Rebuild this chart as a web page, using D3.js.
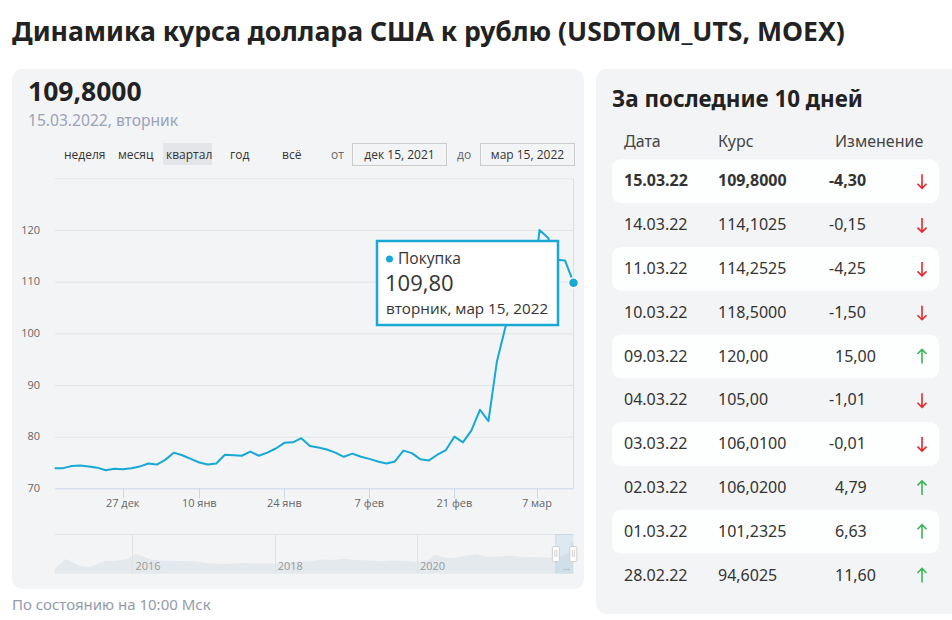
<!DOCTYPE html>
<html>
<head>
<meta charset="utf-8">
<script src="https://cdn.jsdelivr.net/npm/d3@7"></script>
<style>
  body { margin: 0; background: #fff; }
  svg { display: block; }
</style>
</head>
<body>
<div id="chart"></div>
<script>
// daily USDTOM close, Dec 2021 - Mar 15 2022 (trading days)
const rates = [
  73.9, 73.9, 74.3, 74.4, 74.2, 74.0, 73.5, 73.8, 73.7, 73.9,
  74.2, 74.8, 74.6, 75.5, 76.9, 76.4, 75.7, 75.0, 74.6, 74.8,
  76.5, 76.4, 76.3, 77.1, 76.3, 76.9, 77.7, 78.8, 78.9, 79.7,
  78.2, 77.9, 77.5, 76.9, 76.1, 76.7, 76.1, 75.7, 75.2, 74.8,
  75.2, 77.3, 76.8, 75.6, 75.4, 76.5, 77.4, 80.0, 78.9, 81.2,
  85.2, 83.0, 94.6025, 101.2325, 106.02, 106.01, 105.0, 120.0, 118.5, 114.2525,
  114.1025, 109.8
];
const xTickLabels = ['27 дек', '10 янв', '24 янв', '7 фев', '21 фев', '7 мар'];
const xTickIdx = [8, 17, 27, 37, 47, 56.7];
const yTicks = [70, 80, 90, 100, 110, 120, 130];

const rangeButtons = ['неделя', 'месяц', 'квартал', 'год', 'всё'];

const tableDates = ['15.03.22', '14.03.22', '11.03.22', '10.03.22', '09.03.22',
  '04.03.22', '03.03.22', '02.03.22', '01.03.22', '28.02.22'];
const tableRates = ['109,8000', '114,1025', '114,2525', '118,5000', '120,00',
  '105,00', '106,0100', '106,0200', '101,2325', '94,6025'];
const tableChanges = [-4.30, -0.15, -4.25, -1.50, 15.00, -1.01, -0.01, 4.79, 6.63, 11.60];

// navigator: whole history, roughly
const navYears = [2014.91, 2014.96, 2015.0, 2015.05, 2015.12, 2015.25, 2015.38, 2015.5, 2015.62, 2015.72,
  2015.85, 2015.95, 2016.05, 2016.12, 2016.25, 2016.4, 2016.55, 2016.7, 2016.85, 2016.97,
  2017.1, 2017.3, 2017.5, 2017.65, 2017.85, 2017.97, 2018.1, 2018.3, 2018.5, 2018.65,
  2018.8, 2018.97, 2019.15, 2019.35, 2019.5, 2019.65, 2019.85, 2019.97, 2020.15, 2020.25,
  2020.4, 2020.55, 2020.72, 2020.83, 2020.97, 2021.15, 2021.3, 2021.5, 2021.7, 2021.85,
  2021.97, 2022.05, 2022.13, 2022.17, 2022.2];
const navValues = [45, 55, 60, 68, 64, 53, 50, 57, 65, 64,
  66, 70, 80, 76, 67, 65, 64, 64, 63, 61,
  58, 57, 59, 59, 58, 57.5, 57, 62, 63, 67,
  66, 69, 66, 65, 63, 65, 64, 62, 65, 78,
  71, 71, 76, 79, 74, 74, 76, 73, 73, 71,
  73.5, 76, 83, 105, 110];
const navYearTicks = [2016, 2018, 2020];

const W = 952, H = 620;
const lineColor = '#17a8d4';
const chartFont = '"Open Sans", "Noto Sans", sans-serif';
const uiFont = '"Noto Sans", "Open Sans", sans-serif';
const fmt = v => v.toFixed(2).replace('.', ',');

const svg = d3.select('#chart').append('svg')
  .attr('width', W).attr('height', H)
  .attr('viewBox', `0 0 ${W} ${H}`);

// page title
svg.append('text')
  .attr('x', 12).attr('y', 41)
  .attr('font-family', uiFont).attr('font-weight', 700).attr('font-size', 26.6)
  .attr('fill', '#222')
  .text('Динамика курса доллара США к рублю (USDTOM_UTS, MOEX)');

// panels
svg.append('rect').attr('x', 12).attr('y', 69).attr('width', 572).attr('height', 520)
  .attr('rx', 10).attr('fill', '#f3f4f6');
svg.append('rect').attr('x', 596).attr('y', 69).attr('width', 370).attr('height', 545)
  .attr('rx', 10).attr('fill', '#f3f4f6');

// header of chart panel
svg.append('text').attr('x', 28).attr('y', 101)
  .attr('font-family', uiFont).attr('font-weight', 700).attr('font-size', 26.5)
  .attr('fill', '#222').text('109,8000');
svg.append('text').attr('x', 28).attr('y', 126)
  .attr('font-family', uiFont).attr('font-size', 15.6)
  .attr('fill', '#9aa3b6').text('15.03.2022, вторник');

// range selector
const btnX = [64, 118, 166, 230, 282];
svg.append('rect').attr('x', 163).attr('y', 143).attr('width', 49).attr('height', 22)
  .attr('fill', '#e4e5e9');
const btns = svg.append('g').attr('font-family', chartFont).attr('font-size', 12).attr('fill', '#333');
btns.selectAll('text').data(rangeButtons).join('text')
  .attr('x', (d, i) => btnX[i]).attr('y', 159).text(d => d);
btns.append('text').attr('x', 331).attr('y', 159).attr('fill', '#666').text('от');
btns.append('text').attr('x', 457).attr('y', 159).attr('fill', '#666').text('до');
[[352, 'дек 15, 2021'], [480, 'мар 15, 2022']].forEach(([bx, t]) => {
  btns.append('rect').attr('x', bx + 0.5).attr('y', 143.5).attr('width', 94).attr('height', 22)
    .attr('fill', '#f3f4f6').attr('stroke', '#cccccc');
  btns.append('text').attr('x', bx + 47.5).attr('y', 159).attr('text-anchor', 'middle').text(t);
});

// main plot
const plot = { left: 55, right: 573.5, top: 178.3, bottom: 488.3 };
const x = d3.scaleLinear().domain([0, rates.length - 1]).range([54.7, 573.5]);
const y = d3.scaleLinear().domain([70, 130]).range([plot.bottom, plot.top]);

const grid = svg.append('g');
grid.selectAll('line').data(yTicks.filter(v => v > 70)).join('line')
  .attr('x1', plot.left).attr('x2', plot.right)
  .attr('y1', d => y(d) + 0.5).attr('y2', d => y(d) + 0.5)
  .attr('stroke', '#e1e3e7').attr('stroke-width', 1);
svg.append('line').attr('x1', plot.right).attr('x2', plot.right)
  .attr('y1', plot.top).attr('y2', plot.bottom)
  .attr('stroke', '#d8dde6');

svg.append('g').selectAll('text').data(yTicks.filter(v => v < 130)).join('text')
  .attr('x', 40).attr('y', d => y(d)).attr('dy', '0.35em')
  .attr('text-anchor', 'end')
  .attr('font-family', chartFont).attr('font-size', 11).attr('fill', '#666')
  .text(d => d);

// x axis
const xAxis = svg.append('g');
xAxis.append('line').attr('x1', plot.left).attr('x2', plot.right)
  .attr('y1', plot.bottom + 0.5).attr('y2', plot.bottom + 0.5).attr('stroke', '#ccd6eb');
xAxis.selectAll('line.tick').data(xTickIdx).join('line').attr('class', 'tick')
  .attr('x1', d => Math.round(x(d)) + 0.5).attr('x2', d => Math.round(x(d)) + 0.5)
  .attr('y1', plot.bottom).attr('y2', plot.bottom + 10).attr('stroke', '#ccd6eb');
xAxis.selectAll('text').data(xTickIdx).join('text')
  .attr('x', d => x(d)).attr('y', 507)
  .attr('text-anchor', 'middle')
  .attr('font-family', chartFont).attr('font-size', 11).attr('fill', '#666')
  .text((d, i) => xTickLabels[i]);

const line = d3.line().x((d, i) => x(i)).y(d => y(d));
svg.append('path').datum(rates)
  .attr('d', line).attr('fill', 'none')
  .attr('stroke', lineColor).attr('stroke-width', 2).attr('stroke-linejoin', 'round');

const last = rates.length - 1;
svg.append('circle').attr('cx', x(last)).attr('cy', y(rates[last])).attr('r', 5)
  .attr('fill', lineColor).attr('stroke', '#fff').attr('stroke-width', 1.5);

// tooltip
const tip = svg.append('g').attr('transform', 'translate(377,241)');
tip.append('rect').attr('width', 181).attr('height', 84)
  .attr('fill', '#fff').attr('stroke', lineColor).attr('stroke-width', 2.5);
tip.append('circle').attr('cx', 12.5).attr('cy', 18).attr('r', 3.5).attr('fill', lineColor);
tip.append('text').attr('x', 21).attr('y', 23)
  .attr('font-family', chartFont).attr('font-size', 15.6).attr('fill', '#333').text('Покупка');
tip.append('text').attr('x', 8).attr('y', 50)
  .attr('font-family', chartFont).attr('font-size', 22).attr('fill', '#333')
  .text(fmt(rates[last]));
tip.append('text').attr('x', 9).attr('y', 73)
  .attr('font-family', chartFont).attr('font-size', 15.2).attr('fill', '#333')
  .text('вторник, мар 15, 2022');

// navigator
const nav = { left: 55, right: 573.3, top: 534, bottom: 573.7 };
const nx = d3.scaleLinear().domain([2014.91, 2022.2]).range([nav.left, nav.right]);
const ny = d3.scaleLinear().domain([35, 125]).range([nav.bottom, nav.top]);
svg.append('line').attr('x1', nav.left).attr('x2', nav.right)
  .attr('y1', nav.top + 0.5).attr('y2', nav.top + 0.5).attr('stroke', '#e0e2e6');
svg.append('path').datum(navValues)
  .attr('d', d3.area().x((d, i) => nx(navYears[i])).y0(nav.bottom).y1(d => ny(d)))
  .attr('fill', '#e4e9ee');
svg.append('g').selectAll('line').data(navYearTicks).join('line')
  .attr('x1', d => Math.round(nx(d)) + 0.5).attr('x2', d => Math.round(nx(d)) + 0.5)
  .attr('y1', nav.top).attr('y2', nav.bottom).attr('stroke', '#e0e2e6');
svg.append('g').selectAll('text').data(navYearTicks).join('text')
  .attr('x', d => nx(d) + 3).attr('y', 570)
  .attr('font-family', chartFont).attr('font-size', 11).attr('fill', '#999')
  .text(d => d);
const selFrom = nx(2021.955), selTo = nav.right;
svg.append('rect').attr('x', selFrom).attr('y', nav.top).attr('width', selTo - selFrom)
  .attr('height', nav.bottom - nav.top).attr('fill', 'rgba(102,170,210,0.15)');
svg.append('line').attr('x1', selFrom).attr('x2', selFrom).attr('y1', nav.top).attr('y2', nav.bottom)
  .attr('stroke', '#d0d6de');
svg.append('text').attr('x', (selFrom + selTo) / 2 + 2).attr('y', 570).attr('text-anchor', 'middle')
  .attr('font-family', chartFont).attr('font-size', 9).attr('fill', '#999').text('...');
[selFrom, selTo].forEach(hx => {
  svg.append('rect').attr('x', hx - 3.5).attr('y', 546.5).attr('width', 7).attr('height', 15)
    .attr('rx', 1).attr('fill', '#fff').attr('stroke', '#cfcfcf');
  svg.append('path').attr('d', `M${hx - 1},550 v7 M${hx + 1},550 v7`)
    .attr('stroke', '#cfcfcf');
});

// footnote
svg.append('text').attr('x', 12).attr('y', 610)
  .attr('font-family', uiFont).attr('font-size', 15).attr('fill', '#939bab')
  .text('По состоянию на 10:00 Мск');

// right panel - last 10 days
svg.append('text').attr('x', 612).attr('y', 107)
  .attr('font-family', uiFont).attr('font-weight', 700).attr('font-size', 22.4)
  .attr('fill', '#222').text('За последние 10 дней');

const colX = [624, 718, 835];
const head = svg.append('g').attr('font-family', uiFont).attr('font-size', 16).attr('fill', '#444');
['Дата', 'Курс', 'Изменение'].forEach((t, i) => {
  head.append('text').attr('x', colX[i]).attr('y', 147).text(t);
});

const rowTop = 159.3, rowH = 43.8;
const rows = svg.append('g').selectAll('g').data(tableDates).join('g')
  .attr('transform', (d, i) => `translate(0,${rowTop + i * rowH})`)
  .attr('font-family', uiFont).attr('font-size', 16).attr('fill', '#333')
  .attr('font-weight', (d, i) => i === 0 ? 700 : 400);
rows.filter((d, i) => i % 2 === 0).append('rect')
  .attr('x', 612).attr('width', 327).attr('height', rowH).attr('rx', 9).attr('fill', '#fdfefe');
rows.append('text').attr('x', colX[0]).attr('y', 27).text(d => d);
rows.append('text').attr('x', colX[1]).attr('y', 27).text((d, i) => tableRates[i]);
rows.append('text').attr('x', (d, i) => tableChanges[i] < 0 ? colX[2] - 6 : colX[2]).attr('y', 27)
  .text((d, i) => fmt(tableChanges[i]));
rows.append('path')
  .attr('d', (d, i) => tableChanges[i] < 0
    ? 'M922,15 V29 M917.5,24.5 L922,29 L926.5,24.5'
    : 'M922,15 V29 M917.5,19.5 L922,15 L926.5,19.5')
  .attr('fill', 'none').attr('stroke-width', 1.6)
  .attr('stroke', (d, i) => tableChanges[i] < 0 ? '#e5282c' : '#3cb55a');
</script>
</body>
</html>
